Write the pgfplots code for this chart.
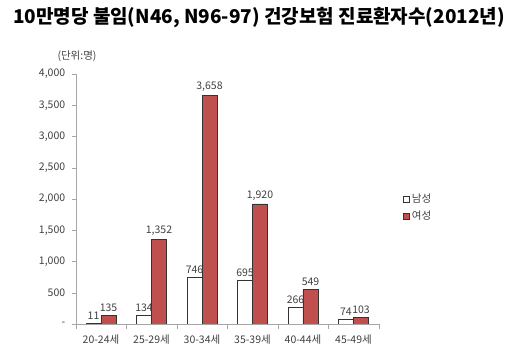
\documentclass[border=0pt]{standalone}
\usepackage{fontspec}
\setmainfont{Noto Sans CJK KR}
\usepackage{pgfplots}
\pgfplotsset{compat=1.18}
\definecolor{fem}{HTML}{C0504D}
\definecolor{txt}{HTML}{404040}
\begin{document}
\begin{tikzpicture}[x=1pt,y=1pt]
\path[use as bounding box] (0,0) rectangle (519,355);
\node[font=\fontsize{19}{21}\selectfont\bfseries, text=black] at (259,337) {10만명당 불임(N46, N96-97) 건강보험 진료환자수(2012년)};
\node[font=\fontsize{10.5}{12}\selectfont, text=txt] at (77,299) {(단위:명)};
\begin{axis}[
  at={(101pt,31pt)}, anchor=origin,
  scale only axis, width=303pt, height=250pt,
  xmin=-0.5, xmax=5.5, ymin=0, ymax=4000,
  axis x line*=bottom, axis y line*=left,
  axis line style={draw=gray!70},
  ybar=0pt, bar width=15pt,
  xtick={0,...,5},
  xticklabels={20-24세,25-29세,30-34세,35-39세,40-44세,45-49세},
  minor xtick={-0.5,0.5,...,5.5},
  major x tick style={draw=none},
  minor x tick style={draw=gray!70},
  ytick={0,500,...,4000},
  yticklabels={-,500,{1,000},{1,500},{2,000},{2,500},{3,000},{3,500},{4,000}},
  y tick style={draw=gray!70},
  tick align=outside, major tick length=4pt, minor tick length=5pt,
  tick label style={font=\fontsize{10.5}{12}\selectfont, text=txt},
  /pgf/number format/assume math mode=true,
  xticklabel style={yshift=-3pt},
  yticklabel style={xshift=-3pt},
  nodes near coords,
  every node near coord/.append style={font=\fontsize{10.5}{12}\selectfont, text=txt, /pgf/number format/1000 sep={,}, /pgf/number format/assume math mode=true},
  legend style={at={(1.07,0.465)}, anchor=west, draw=none, fill=none,
    font=\fontsize{10.5}{12}\selectfont, text=txt, row sep=3pt},
  legend image code/.code={\draw[#1] (0pt,-3pt) rectangle (6pt,3pt);},
  legend cell align=left,
]
\addplot[draw=black!80, fill=white, line width=0.8pt] coordinates {(0,11) (1,134) (2,746) (3,695) (4,266) (5,74)};
\addplot[draw=black!80, fill=fem, line width=0.8pt] coordinates {(0,135) (1,1352) (2,3658) (3,1920) (4,549) (5,103)};
\legend{남성,여성}
\end{axis}
\end{tikzpicture}
\end{document}
